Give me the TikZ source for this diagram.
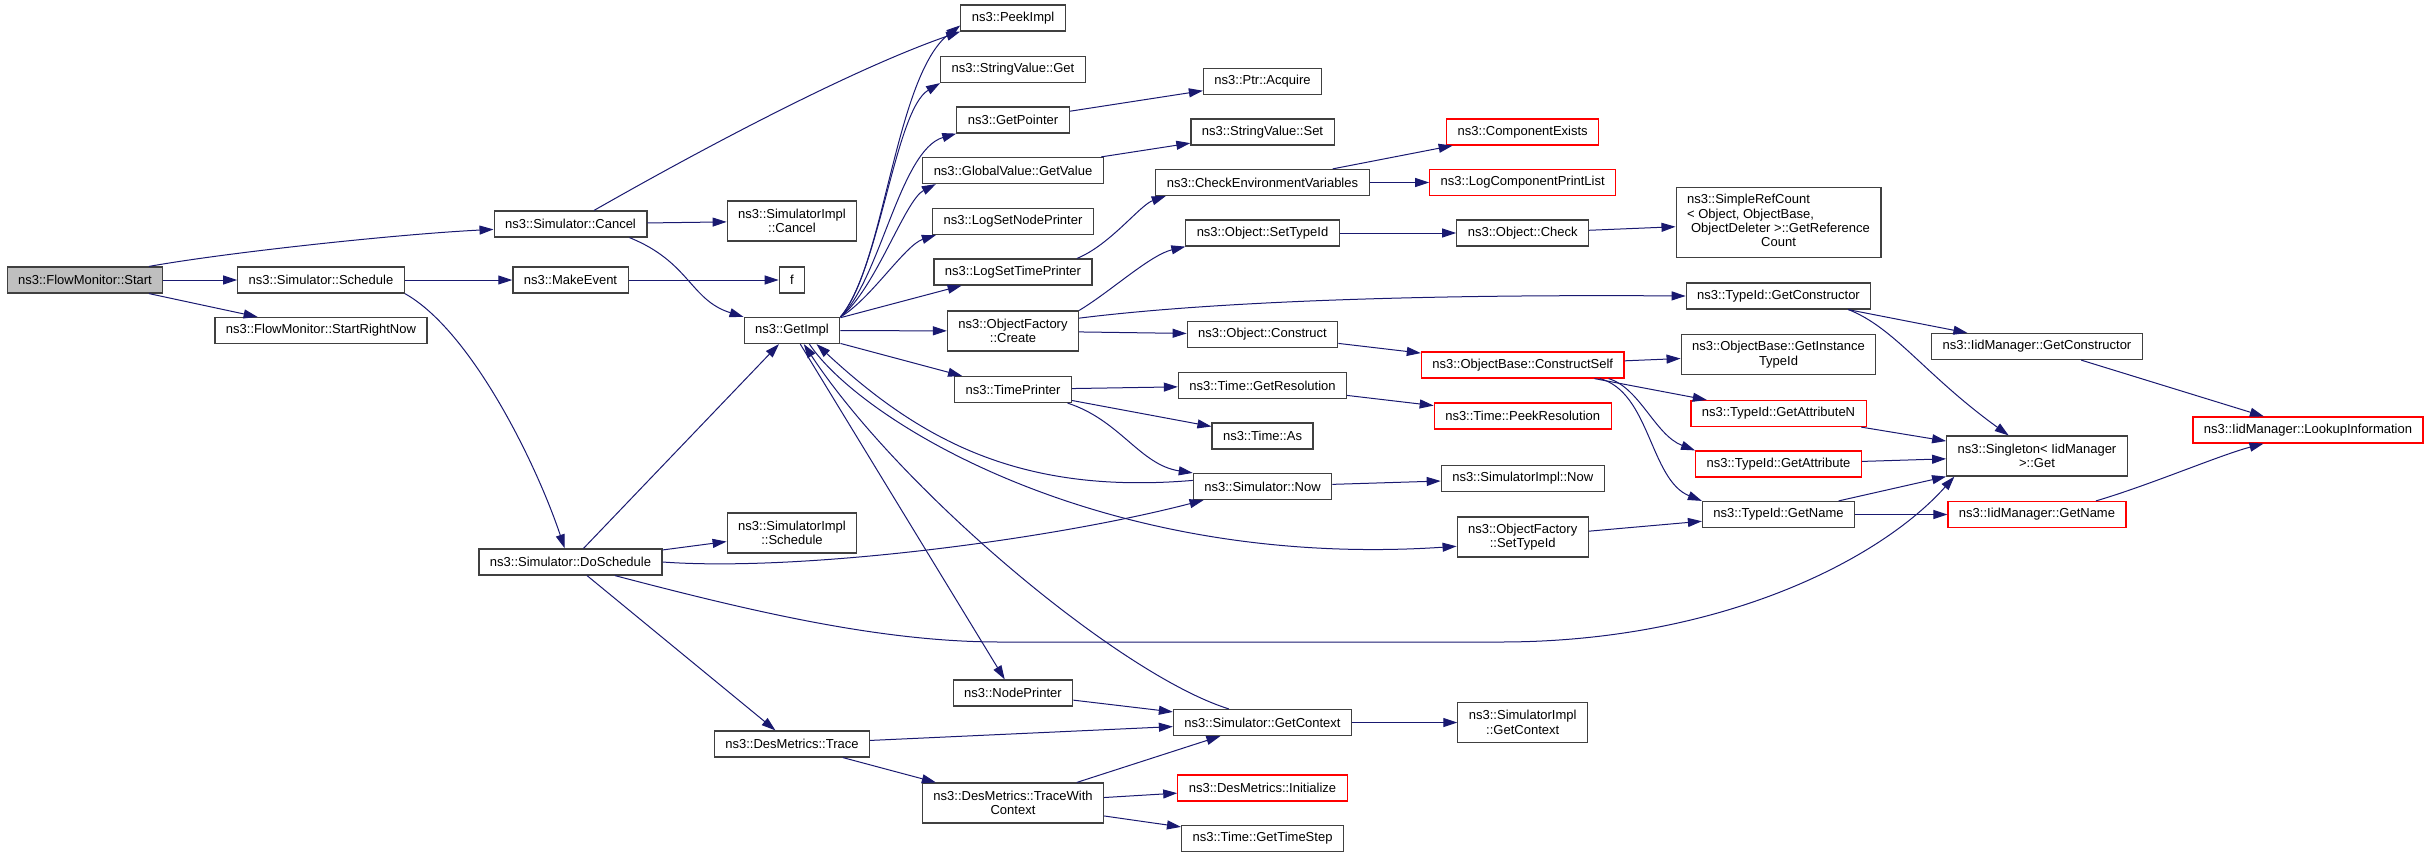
\documentclass[tikz,border=0pt]{standalone}
\usepackage{fontspec}
\setmainfont{Liberation Sans}
\usetikzlibrary{arrows.meta}
\definecolor{edgeblue}{HTML}{191970}
\definecolor{rootgray}{HTML}{BFBFBF}
\begin{document}
\begin{tikzpicture}[x=0.5pt, y=-0.5pt,
		font=\fontsize{6.5pt}{7.2pt}\selectfont,
		fnbox/.style={draw=black!75, line width=0.6pt, rectangle, align=center, inner xsep=5.5pt, inner ysep=2.5pt, minimum height=13pt},
		twoline/.style={minimum height=20pt},
		missbox/.style={fnbox, draw=red},
		call/.style={-{Triangle[length=7pt, width=4.5pt]}, edgeblue, line width=0.5pt}]
	\useasboundingbox (0,0) rectangle (2429,857);

	\node[fnbox, fill=rootgray]	(start)		at (85,280)		{ns3::FlowMonitor::Start};
	\node[fnbox]	(cancel)		at (570.5,224)	{ns3::Simulator::Cancel};
	\node[fnbox]	(schedule)		at (321,280)	{ns3::Simulator::Schedule};
	\node[fnbox]	(startrn)		at (321,330.5)	{ns3::FlowMonitor::StartRightNow};
	\node[fnbox]	(makeevent)		at (570.5,280)	{ns3::MakeEvent};
	\node[fnbox]	(doschedule)	at (570.5,562)	{ns3::Simulator::DoSchedule};

	\node[fnbox, twoline]	(implcancel)	at (792,221)	{ns3::SimulatorImpl\\::Cancel};
	\node[fnbox]	(f)				at (792,280)	{f};
	\node[fnbox]	(getimpl)		at (792,330.5)	{ns3::GetImpl};
	\node[fnbox, twoline]	(implschedule)	at (792,533)	{ns3::SimulatorImpl\\::Schedule};
	\node[fnbox]	(destrace)		at (792,744)	{ns3::DesMetrics::Trace};

	\node[fnbox]	(peekimpl)		at (1013,18)	{ns3::PeekImpl};
	\node[fnbox]	(svget)			at (1013,69.5)	{ns3::StringValue::Get};
	\node[fnbox]	(getpointer)	at (1013,120)	{ns3::GetPointer};
	\node[fnbox]	(gvgetvalue)	at (1013,170.5)	{ns3::GlobalValue::GetValue};
	\node[fnbox]	(lognode)		at (1013,221.5)	{ns3::LogSetNodePrinter};
	\node[fnbox]	(logtime)		at (1013,272)	{ns3::LogSetTimePrinter};
	\node[fnbox, twoline]	(ofcreate)		at (1013,331)	{ns3::ObjectFactory\\::Create};
	\node[fnbox]	(timeprinter)	at (1013,389.5)	{ns3::TimePrinter};
	\node[fnbox]	(nodeprinter)	at (1013,693)	{ns3::NodePrinter};
	\node[fnbox, twoline]	(tracectx)		at (1013,803)	{ns3::DesMetrics::TraceWith\\Context};

	\node[fnbox]	(ptracquire)	at (1262.5,81.5)	{ns3::Ptr::Acquire};
	\node[fnbox]	(svset)			at (1262.5,132)		{ns3::StringValue::Set};
	\node[fnbox]	(checkenv)		at (1262.5,182.5)	{ns3::CheckEnvironmentVariables};
	\node[fnbox]	(objsettypeid)	at (1262.5,233)		{ns3::Object::SetTypeId};
	\node[fnbox]	(objconstruct)	at (1262.5,334.5)	{ns3::Object::Construct};
	\node[fnbox]	(getres)		at (1262.5,385.5)	{ns3::Time::GetResolution};
	\node[fnbox]	(timeas)		at (1262.5,436)		{ns3::Time::As};
	\node[fnbox]	(simnow)		at (1262.5,486.5)	{ns3::Simulator::Now};
	\node[fnbox]	(getcontext)	at (1262.5,722.5)	{ns3::Simulator::GetContext};
	\node[missbox]	(initialize)	at (1262.5,788)		{ns3::DesMetrics::Initialize};
	\node[fnbox]	(gettimestep)	at (1262.5,838.5)	{ns3::Time::GetTimeStep};

	\node[missbox]	(compexists)	at (1522.7,132)		{ns3::ComponentExists};
	\node[missbox]	(logcomplist)	at (1522.7,182.5)	{ns3::LogComponentPrintList};
	\node[fnbox]	(objcheck)		at (1522.7,233)		{ns3::Object::Check};
	\node[missbox]	(constructself)	at (1522.7,365)		{ns3::ObjectBase::ConstructSelf};
	\node[missbox]	(peekres)		at (1522.7,416)		{ns3::Time::PeekResolution};
	\node[fnbox]	(implnow)		at (1522.7,478.5)	{ns3::SimulatorImpl::Now};
	\node[fnbox, twoline]	(ofsettypeid)	at (1522.7,537)		{ns3::ObjectFactory\\::SetTypeId};
	\node[fnbox, twoline]	(implgetcontext)	at (1522.7,722.5)	{ns3::SimulatorImpl\\::GetContext};

	\node[fnbox, minimum height=35pt]	(simplerefcount)	at (1778.5,222.5)
		{\begin{tabular}{@{}l@{}}ns3::SimpleRefCount\\< Object, ObjectBase,\\\hspace{2pt}ObjectDeleter >::GetReference\\\multicolumn{1}{@{}c@{}}{Count}\end{tabular}};
	\node[fnbox]	(tidgetctor)	at (1778.5,296)		{ns3::TypeId::GetConstructor};
	\node[fnbox, twoline]	(getinstance)	at (1778.5,354.5)	{ns3::ObjectBase::GetInstance\\TypeId};
	\node[missbox]	(getattrn)		at (1778.5,413.5)	{ns3::TypeId::GetAttributeN};
	\node[missbox]	(getattr)		at (1778.5,464)		{ns3::TypeId::GetAttribute};
	\node[fnbox]	(tidgetname)	at (1778.5,514.5)	{ns3::TypeId::GetName};

	\node[fnbox]	(iidgetctor)	at (2037,346.5)		{ns3::IidManager::GetConstructor};
	\node[fnbox, twoline]	(singleton)		at (2037,456)	{ns3::Singleton< IidManager\\>::Get};
	\node[missbox]	(iidgetname)	at (2037,514.5)		{ns3::IidManager::GetName};
	\node[missbox]	(lookup)		at (2308,430)		{ns3::IidManager::LookupInformation};

	\draw[call]	(start.12) .. controls (230,252) and (400,234) .. (cancel.184);
	\draw[call]	(start) -- (schedule);
	\draw[call]	(start.-12) -- (startrn);
	\draw[call]	(cancel) -- (implcancel);
	\draw[call]	(cancel.30) .. controls (700,150) and (850,70) .. (peekimpl.south west);
	\draw[call]	(cancel.-13) .. controls (690,262) and (690,300) .. (getimpl.north west);
	\draw[call]	(schedule) -- (makeevent);
	\draw[call]	(schedule.south east) .. controls (470,330) and (535,460) .. (doschedule.113);
	\draw[call]	(makeevent) -- (f);

	\draw[call]	(getimpl.north east) .. controls (885,265) and (895,75) .. (peekimpl.188);
	\draw[call]	(getimpl.north east) .. controls (880,270) and (895,110) .. (svget.south west);
	\draw[call]	(getimpl.north east) .. controls (880,280) and (900,150) .. (getpointer.south west);
	\draw[call]	(getimpl.north east) .. controls (875,290) and (905,200) .. (gvgetvalue.190);
	\draw[call]	(getimpl.north east) .. controls (870,300) and (905,245) .. (lognode.190);
	\draw[call]	(getimpl) -- (logtime);
	\draw[call]	(getimpl) -- (ofcreate);
	\draw[call]	(getimpl) -- (timeprinter);
	\draw[call]	(getimpl) -- (nodeprinter);
	\draw[call]	(getimpl.-38) .. controls (860,420) and (1100,570) .. (ofsettypeid.188);

	\draw[call]	(doschedule) -- (getimpl);
	\draw[call]	(doschedule) -- (implschedule);
	\draw[call]	(doschedule) -- (destrace);
	\draw[call]	(doschedule.east) .. controls (800,572) and (1050,540) .. (simnow.193);
	\draw[call]	(doschedule.-17) .. controls (750,611) and (880,642) .. (1000,642) -- (1500,642)
						.. controls (1720,642) and (1880,560) .. (singleton.194);

	\draw[call]	(simnow.175) .. controls (1020,495) and (920,440) .. (getimpl.-29);
	\draw[call]	(getcontext.158) .. controls (1120,675) and (900,490) .. (getimpl.-49);
	\draw[call]	(timeprinter) -- (getres);
	\draw[call]	(timeprinter) -- (timeas);
	\draw[call]	(timeprinter.-14) .. controls (1120,420) and (1140,465) .. (simnow.north west);
	\draw[call]	(simnow) -- (implnow);

	\draw[call]	(destrace) -- (getcontext);
	\draw[call]	(destrace) -- (tracectx);
	\draw[call]	(nodeprinter) -- (getcontext);
	\draw[call]	(tracectx) -- (getcontext);
	\draw[call]	(tracectx) -- (initialize);
	\draw[call]	(tracectx) -- (gettimestep);
	\draw[call]	(getcontext) -- (implgetcontext);

	\draw[call]	(getpointer) -- (ptracquire);
	\draw[call]	(gvgetvalue) -- (svset);
	\draw[call]	(logtime.12) .. controls (1110,245) and (1140,205) .. (checkenv.188);
	\draw[call]	(checkenv) -- (compexists);
	\draw[call]	(checkenv) -- (logcomplist);
	\draw[call]	(ofcreate.north east) .. controls (1110,292) and (1150,255) .. (objsettypeid.190);
	\draw[call]	(ofcreate.11) .. controls (1200,303) and (1400,294) .. (tidgetctor.west);
	\draw[call]	(ofcreate) -- (objconstruct);
	\draw[call]	(objsettypeid) -- (objcheck);
	\draw[call]	(objcheck) -- (simplerefcount);
	\draw[call]	(objconstruct) -- (constructself);
	\draw[call]	(getres) -- (peekres);

	\draw[call]	(constructself) -- (getinstance);
	\draw[call]	(constructself) -- (getattrn);
	\draw[call]	(constructself.-9) .. controls (1640,388) and (1655,435) .. (getattr.north west);
	\draw[call]	(constructself.-10) .. controls (1650,392) and (1650,480) .. (tidgetname.north west);
	\draw[call]	(ofsettypeid) -- (tidgetname);

	\draw[call]	(tidgetctor) -- (iidgetctor);
	\draw[call]	(tidgetctor.-11) .. controls (1895,328) and (1925,375) .. (singleton.144);
	\draw[call]	(getattrn) -- (singleton);
	\draw[call]	(getattr) -- (singleton);
	\draw[call]	(tidgetname) -- (singleton);
	\draw[call]	(tidgetname) -- (iidgetname);
	\draw[call]	(iidgetctor) -- (lookup);
	\draw[call]	(iidgetname.13) .. controls (2150,485) and (2220,455) .. (lookup.197);
\end{tikzpicture}
\end{document}
